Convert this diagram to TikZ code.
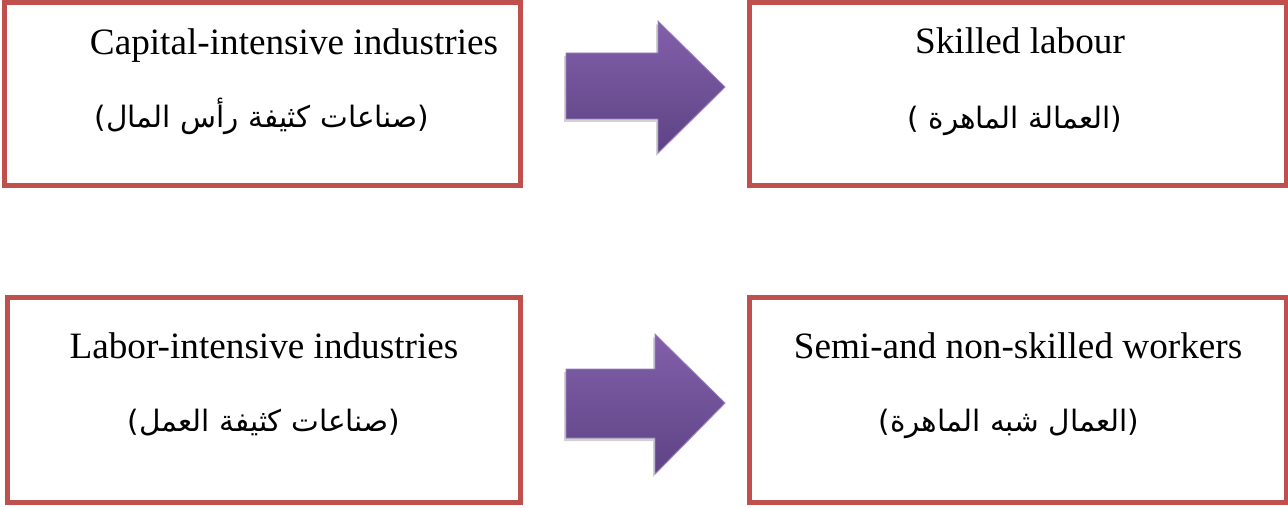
\documentclass[tikz,border=0pt]{standalone}
\usepackage{fontspec}
\setmainfont{Liberation Serif}
\newfontfamily\arabicfont[Script=Arabic]{DejaVu Sans}
\TeXXeTstate=1
\definecolor{boxred}{HTML}{C0504D}
\definecolor{arrtop}{HTML}{8260AA}
\definecolor{arrbot}{HTML}{5E4385}
\definecolor{arredge}{HTML}{9A82C2}
\begin{document}
\begin{tikzpicture}[x=1pt,y=-1pt,
  panel/.style={draw=boxred,line width=5pt,rectangle,inner sep=0pt,outer sep=0pt},
  entxt/.style={anchor=base,inner sep=0pt,font=\fontsize{37.2}{44}\selectfont},
  artxt/.style={anchor=base,inner sep=0pt,font=\fontsize{29.5}{36}\arabicfont},
  blockarrow/.style={top color=arrtop,bottom color=arrbot,draw=arredge,line width=0.8pt,line join=miter},
  arrshadow/.style={fill=black,opacity=0.18}
]
\useasboundingbox (0,0) rectangle (1288,508);
\fill[white] (0,0) rectangle (1288,508);

% boxes
\node[panel,minimum width=515.5pt,minimum height=182.5pt] (tl) at (262.25,93.75) {};
\node[panel,minimum width=536.5pt,minimum height=182.5pt] (tr) at (1017.75,93.75) {};
\node[panel,minimum width=512.5pt,minimum height=205pt] (bl) at (263.75,400) {};
\node[panel,minimum width=536.5pt,minimum height=205pt] (br) at (1017.75,400) {};

% texts
\node[entxt] (tl1) at (294,55) {Capital-intensive industries};
\node[artxt] (tl2) at (262,128) {\beginR(صناعات كثيفة رأس المال)\endR};
\node[entxt] (tr1) at (1020,54) {Skilled labour};
\node[artxt] (tr2) at (1015,129) {\beginR(العمالة الماهرة )\endR};
\node[entxt] (bl1) at (264,358) {Labor-intensive industries};
\node[artxt] (bl2) at (264,431) {\beginR(صناعات كثيفة العمل)\endR};
\node[entxt] (br1) at (1018,358) {Semi-and non-skilled workers};
\node[artxt] (br2) at (1009,431) {\beginR(العمال شبه الماهرة)\endR};

% block arrows
\fill[arrshadow] (564,56) -- (656,56) -- (656,24) -- (723,90) -- (656,156) -- (656,122) -- (564,122) -- cycle;
\draw[blockarrow] (566,53) -- (658,53) -- (658,21) -- (725,87) -- (658,153) -- (658,119) -- (566,119) -- cycle;
\fill[arrshadow] (564,372) -- (653,372) -- (653,337) -- (723,406) -- (653,477) -- (653,441) -- (564,441) -- cycle;
\draw[blockarrow] (566,369) -- (655,369) -- (655,334) -- (725,403) -- (655,474) -- (655,438) -- (566,438) -- cycle;
\end{tikzpicture}
\end{document}
